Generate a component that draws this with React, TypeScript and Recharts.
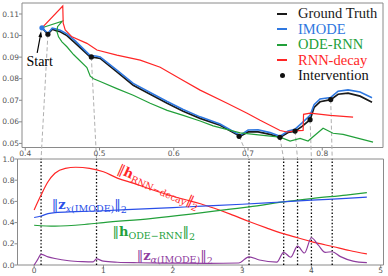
import React from "react";
import {
	ComposedChart,
	Line,
	XAxis,
	YAxis,
	ReferenceLine,
	ReferenceDot,
	ReferenceArea,
	Legend,
} from "recharts";

// top panel: trajectories (x, y)
const groundTruth: [number, number][] = [
	[0.4225, 0.1036], [0.4303, 0.1006], [0.4363, 0.1029], [0.4417, 0.1023], [0.4471, 0.1018],
	[0.4561, 0.1], [0.4673, 0.0965], [0.4875, 0.0901], [0.495, 0.0898], [0.5009, 0.0894],
	[0.5234, 0.0832], [0.5454, 0.077], [0.5682, 0.0728], [0.5911, 0.0686], [0.6127, 0.0649],
	[0.6355, 0.0616], [0.6624, 0.0584], [0.6894, 0.0533], [0.7001, 0.0553], [0.7136, 0.0553],
	[0.7297, 0.0542], [0.7432, 0.0528], [0.754, 0.0551], [0.7634, 0.0557], [0.7728, 0.0579],
	[0.7836, 0.061], [0.789, 0.0667], [0.797, 0.0693], [0.8114, 0.0703], [0.8213, 0.0728],
	[0.8347, 0.0733], [0.8509, 0.0719], [0.867, 0.0691],
];
const imode: [number, number][] = [
	[0.4225, 0.1036], [0.4303, 0.101], [0.4363, 0.1034], [0.4417, 0.103], [0.4471, 0.1025],
	[0.4561, 0.1008], [0.4673, 0.0975], [0.4875, 0.0907], [0.495, 0.0905], [0.5009, 0.0901],
	[0.5234, 0.084], [0.5454, 0.0778], [0.5682, 0.0736], [0.5911, 0.0694], [0.6127, 0.0657],
	[0.6355, 0.0623], [0.6624, 0.059], [0.6894, 0.0537], [0.7001, 0.0562], [0.7136, 0.0563],
	[0.7297, 0.055], [0.7432, 0.0533], [0.754, 0.0558], [0.7634, 0.0566], [0.7728, 0.0595],
	[0.7836, 0.063], [0.789, 0.068], [0.797, 0.0706], [0.8114, 0.0713], [0.8213, 0.0742],
	[0.8347, 0.0748], [0.8509, 0.0738], [0.867, 0.0712],
];
const odeRnn: [number, number][] = [
	[0.4225, 0.1036], [0.4498, 0.1067], [0.4435, 0.1041], [0.4427, 0.1018], [0.4448, 0.0994],
	[0.4494, 0.0971], [0.4561, 0.0948], [0.465, 0.0912], [0.483, 0.0852], [0.4875, 0.0812],
	[0.492, 0.08], [0.5009, 0.0787], [0.5234, 0.0754], [0.5454, 0.0723], [0.5682, 0.0686],
	[0.5911, 0.0653], [0.6127, 0.063], [0.6355, 0.0604], [0.653, 0.0581], [0.6894, 0.0549],
	[0.7203, 0.0537], [0.7432, 0.0529], [0.7567, 0.0511], [0.7701, 0.0523], [0.7809, 0.0511],
	[0.8011, 0.057], [0.8145, 0.0547], [0.828, 0.0542], [0.8684, 0.0506],
];
const rnnDecay: [number, number][] = [
	[0.4225, 0.1036], [0.4505, 0.1137], [0.4511, 0.1058], [0.4538, 0.1026], [0.4629, 0.0994],
	[0.483, 0.0964], [0.4965, 0.0933], [0.5234, 0.0909], [0.5548, 0.0886], [0.5817, 0.0853],
	[0.6086, 0.08], [0.6355, 0.0747], [0.6719, 0.0686], [0.6988, 0.064], [0.7163, 0.0607],
	[0.7432, 0.056], [0.7526, 0.0553], [0.7634, 0.0558], [0.7742, 0.056], [0.7748, 0.0635],
	[0.7836, 0.064], [0.8105, 0.063], [0.8415, 0.0622],
];
const start: [number, number] = [0.4225, 0.1036];

// interventions: position on the top panel and time on the bottom panel
const interventionX = [0.4305, 0.489, 0.688, 0.743, 0.7634, 0.7836, 0.8114];
const interventionY = [0.1006, 0.0901, 0.0533, 0.0528, 0.0557, 0.061, 0.0703];
const interventionT = [0.1, 0.9, 3.1, 3.6, 3.8, 4.0, 4.3];

// bottom panel: norms over time
const rnnDecayNorm: [number, number][] = [
	[0, 0.52], [0.1, 0.66], [0.2, 0.785], [0.3, 0.865], [0.45, 0.912], [0.6, 0.922],
	[0.8, 0.912], [1.0, 0.88], [1.2, 0.82], [1.44, 0.77], [1.68, 0.715], [1.92, 0.665],
	[2.16, 0.62], [2.4, 0.578], [2.6, 0.535], [2.83, 0.48], [3.1, 0.41], [3.35, 0.35],
	[3.58, 0.298], [3.8, 0.257], [4.0, 0.22], [4.32, 0.172], [4.55, 0.137], [4.8, 0.104],
];
const imodeXNorm: [number, number][] = [
	[0, 0.448], [0.1, 0.462], [0.2, 0.485], [0.3, 0.495], [0.6, 0.503], [1.0, 0.512],
	[1.5, 0.527], [2.0, 0.542], [2.5, 0.557], [3.0, 0.573], [3.5, 0.592], [4.0, 0.612],
	[4.5, 0.628], [4.8, 0.64],
];
const odeRnnNorm: [number, number][] = [
	[0, 0.375], [0.3, 0.366], [0.77, 0.385], [1.0, 0.4], [1.68, 0.438], [2.26, 0.48],
	[2.83, 0.527], [3.1, 0.548], [3.65, 0.6], [4.0, 0.627], [4.5, 0.66], [4.8, 0.682],
];
const imodeANorm: [number, number][] = [
	[0, 0], [0.05, 0.05], [0.1, 0.1], [0.2, 0.077], [0.3, 0.061], [0.5, 0.04], [0.7, 0.032],
	[0.85, 0.03], [0.9, 0.057], [1.0, 0.036], [1.2, 0.026], [1.5, 0.021], [2.0, 0.018],
	[2.5, 0.016], [2.95, 0.019], [3.1, 0.077], [3.25, 0.047], [3.5, 0.028], [3.6, 0.12],
	[3.7, 0.073], [3.8, 0.178], [3.9, 0.113], [4.0, 0.257], [4.1, 0.187], [4.2, 0.12],
	[4.3, 0.125], [4.42, 0.079], [4.6, 0.037], [4.8, 0.022],
];

const topXTicks = [0.4, 0.5, 0.6, 0.7, 0.8];
const topYTicks = [0.05, 0.06, 0.07, 0.08, 0.09, 0.1, 0.11];
const botXTicks = [0, 1, 2, 3, 4, 5];
const botYTicks = [0, 0.2, 0.4, 0.6, 0.8, 1.0];

const TOP_X: [number, number] = [0.3956, 0.8818];
const TOP_Y: [number, number] = [0.0481, 0.1151];
const BOT_X: [number, number] = [-0.24, 5.04];
const BOT_Y: [number, number] = [0, 1];

// plot boxes in page pixels (used to join the two panels)
const TOP_BOX = { left: 22, right: 383, top: 3, bottom: 147.5 };
const BOT_BOX = { left: 17.5, right: 383.5, top: 159, bottom: 265 };

const C = {
	gt: "#1a1a1a",
	imode: "#2f78e0",
	ode: "#22a03a",
	rnn: "#ff2626",
	zx: "#2a4fe8",
	za: "#8e3c9e",
	spine: "#8a8a8a",
};

const SERIF = "'Liberation Serif', 'Times New Roman', 'DejaVu Serif', serif";
const MATH = "'DejaVu Serif', 'Liberation Serif', serif";

const toXY = (pts: [number, number][]) => pts.map(([x, y]) => ({ x, y }));

const topSeries = [
	{ name: "Ground Truth", color: C.gt, width: 1.7, data: toXY(groundTruth) },
	{ name: "IMODE", color: C.imode, width: 1.6, data: toXY(imode) },
	{ name: "ODE-RNN", color: C.ode, width: 1.2, data: toXY(odeRnn) },
	{ name: "RNN-decay", color: C.rnn, width: 1.2, data: toXY(rnnDecay) },
];

// bottom-panel time -> top-panel x value, through the shared page pixels
function timeToTopX(t: number) {
	const px = BOT_BOX.left + ((t - BOT_X[0]) / (BOT_X[1] - BOT_X[0])) * (BOT_BOX.right - BOT_BOX.left);
	return TOP_X[0] + ((px - TOP_BOX.left) / (TOP_BOX.right - TOP_BOX.left)) * (TOP_X[1] - TOP_X[0]);
}
const joinY =
	TOP_Y[0] - ((BOT_BOX.top - TOP_BOX.bottom) / (TOP_BOX.bottom - TOP_BOX.top)) * (TOP_Y[1] - TOP_Y[0]);

const tickStyle = { fontSize: 7.5, fill: "#555", fontFamily: "DejaVu Sans" };

function TopLegend() {
	return (
		<div style={{ fontFamily: SERIF, fontSize: 14.5, lineHeight: "15.5px" }}>
			{topSeries.map((s) => (
				<div key={s.name} style={{ height: 15.5, display: "flex", alignItems: "center", color: s.color }}>
					<span style={{ width: 10, height: 1.6, background: s.color, marginRight: 11, flex: "none" }} />
					{s.name}
				</div>
			))}
			<div style={{ height: 15.5, display: "flex", alignItems: "center", color: "#111" }}>
				<span style={{ width: 5, height: 5, borderRadius: 3, background: "#111", margin: "0 13.5px 0 2.5px", flex: "none" }} />
				Intervention
			</div>
		</div>
	);
}

function StartMark(props: any) {
	const { cx, cy } = props;
	return (
		<g>
			<circle cx={cx} cy={cy} r={2.6} fill={C.imode} />
			<line x1={cx - 4.8} y1={cy + 25} x2={cx - 1.6} y2={cy + 8} stroke="#000" strokeWidth={1.2} />
			<path d={`M${cx - 0.9} ${cy + 3.5} L${cx - 3.6} ${cy + 9} L${cx + 0.2} ${cy + 9.6} Z`} fill="#000" />
			<text x={cx - 15.5} y={cy + 38.5} fontFamily={SERIF} fontSize={14} fill="#000">
				Start
			</text>
		</g>
	);
}

function normLabel(color: string, sym: string, sub: React.ReactNode, angle = 0) {
	return (props: any) => {
		const { cx, cy } = props;
		return (
			<text
				x={cx}
				y={cy}
				fill={color}
				fontFamily={MATH}
				fontSize={13}
				transform={angle ? `rotate(${angle} ${cx} ${cy})` : undefined}
			>
				<tspan>‖</tspan>
				<tspan fontWeight="bold">{sym}</tspan>
				<tspan fontSize={9.5} dy={3}>{sub}</tspan>
				<tspan dy={-3}>‖</tspan>
				<tspan fontSize={9.5} dy={4}>2</tspan>
			</text>
		);
	};
}

export default function App() {
	return (
		<div style={{ position: "absolute", left: 0, top: 0, width: 388, height: 276, background: "#fff" }}>
			<div style={{ position: "absolute", left: 0, top: 0 }}>
				<ComposedChart width={388} height={160} margin={{ top: 3, right: 5, bottom: 0, left: 0 }}>
					<XAxis
						type="number"
						dataKey="x"
						domain={TOP_X}
						ticks={topXTicks}
						allowDataOverflow
						height={12.5}
						tickSize={3}
						tickMargin={0}
						tick={tickStyle}
						axisLine={false}
						tickLine={{ stroke: C.spine }}
						tickFormatter={(v: number) => v.toFixed(1)}
					/>
					<YAxis
						type="number"
						domain={TOP_Y}
						ticks={topYTicks}
						allowDataOverflow
						width={22}
						tickSize={3}
						tickMargin={0}
						tick={tickStyle}
						axisLine={false}
						tickLine={{ stroke: C.spine }}
						tickFormatter={(v: number) => v.toFixed(2)}
					/>
					<ReferenceArea x1={TOP_X[0]} x2={TOP_X[1]} y1={TOP_Y[0]} y2={TOP_Y[1]} fill="none" stroke={C.spine} ifOverflow="visible" />
					{interventionX.map((x, i) => (
						<ReferenceLine
							key={`join-${i}`}
							segment={[
								{ x, y: interventionY[i] },
								{ x: timeToTopX(interventionT[i]), y: joinY },
							]}
							stroke="#b0b0b0"
							strokeDasharray="4 2.5"
							strokeWidth={1}
							ifOverflow="visible"
						/>
					))}
					{topSeries.map((s) => (
						<Line
							key={s.name}
							data={s.data}
							dataKey="y"
							name={s.name}
							type="linear"
							stroke={s.color}
							strokeWidth={s.width}
							dot={false}
							isAnimationActive={false}
						/>
					))}
					{interventionX.map((x, i) => (
						<ReferenceDot key={`iv-${i}`} x={x} y={interventionY[i]} r={2.6} fill="#111" stroke="none" ifOverflow="visible" />
					))}
					<ReferenceDot x={start[0]} y={start[1]} r={2.6} ifOverflow="visible" shape={StartMark} />
					<Legend
						layout="vertical"
						align="center"
						verticalAlign="middle"
						wrapperStyle={{ left: 277, top: 6, width: 110, height: 80 }}
						content={() => <TopLegend />}
					/>
				</ComposedChart>
			</div>
			<div style={{ position: "absolute", left: 0, top: 150 }}>
				<ComposedChart width={388} height={126} margin={{ top: 9, right: 4.5, bottom: 0, left: 0 }}>
					<XAxis
						type="number"
						dataKey="x"
						domain={BOT_X}
						ticks={botXTicks}
						allowDataOverflow
						height={11}
						tickSize={3}
						tickMargin={0}
						tick={tickStyle}
						axisLine={false}
						tickLine={{ stroke: C.spine }}
					/>
					<YAxis
						type="number"
						domain={BOT_Y}
						ticks={botYTicks}
						allowDataOverflow
						width={17.5}
						tickSize={3}
						tickMargin={0}
						tick={tickStyle}
						axisLine={false}
						tickLine={{ stroke: C.spine }}
						tickFormatter={(v: number) => v.toFixed(1)}
					/>
					<ReferenceArea x1={BOT_X[0]} x2={BOT_X[1]} y1={BOT_Y[0]} y2={BOT_Y[1]} fill="none" stroke={C.spine} ifOverflow="visible" />
					{interventionT.map((t) => (
						<ReferenceLine key={`t-${t}`} x={t} stroke="#000" strokeDasharray="1.4 2" strokeWidth={1.3} />
					))}
					<Line data={toXY(rnnDecayNorm)} dataKey="y" type="monotone" stroke={C.rnn} strokeWidth={1.2} dot={false} isAnimationActive={false} />
					<Line data={toXY(odeRnnNorm)} dataKey="y" type="monotone" stroke={C.ode} strokeWidth={1.2} dot={false} isAnimationActive={false} />
					<Line data={toXY(imodeXNorm)} dataKey="y" type="monotone" stroke={C.zx} strokeWidth={1.2} dot={false} isAnimationActive={false} />
					<Line data={toXY(imodeANorm)} dataKey="y" type="monotone" stroke={C.za} strokeWidth={1.2} dot={false} isAnimationActive={false} />
					<ReferenceDot x={1.19} y={0.875} ifOverflow="visible" shape={normLabel(C.rnn, "h", "RNN−decay", 24)} />
					<ReferenceDot
						x={0.255}
						y={0.528}
						ifOverflow="visible"
						shape={normLabel(C.zx, "z", <><tspan fontStyle="italic">x</tspan>(IMODE)</>)}
					/>
					<ReferenceDot x={1.13} y={0.274} ifOverflow="visible" shape={normLabel(C.ode, "h", "ODE−RNN")} />
					<ReferenceDot
						x={1.48}
						y={0.047}
						ifOverflow="visible"
						shape={normLabel(C.za, "z", <><tspan fontStyle="italic">α</tspan>(IMODE)</>)}
					/>
				</ComposedChart>
			</div>
		</div>
	);
}
